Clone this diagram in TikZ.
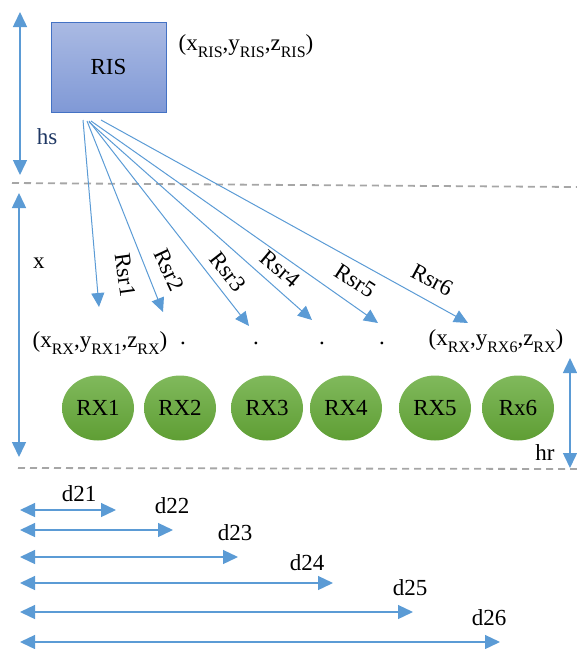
\documentclass[tikz,border=0pt]{standalone}
\usepackage{fontspec}
\setmainfont{Liberation Serif}
\newfontfamily\tnr{Liberation Serif}
\usetikzlibrary{arrows.meta,shapes.geometric}
\definecolor{lblue}{HTML}{5B9BD5}
\definecolor{dgray}{HTML}{A6A6A6}
\definecolor{navy}{HTML}{1F3864}
\definecolor{bTop}{HTML}{AABAE3}
\definecolor{bBot}{HTML}{8099D6}
\definecolor{bEdge}{HTML}{4472C4}
\definecolor{gTop}{HTML}{80B95C}
\definecolor{gBot}{HTML}{5F9E34}
\newcommand\sbs[1]{\raisebox{-0.3em}{\fontsize{16}{16}\selectfont #1}}
\begin{document}
\begin{tikzpicture}[x=1pt,y=-1pt,
  txt/.style={font=\tnr\fontsize{23}{27}\selectfont, inner sep=0pt},
  conn/.style={draw=lblue, line width=1pt, -{Triangle[length=14pt,width=13pt]}},
  dimv/.style={draw=lblue, line width=1.5pt, {Triangle[length=15pt,width=14pt]}-{Triangle[length=15pt,width=14pt]}},
  dimh/.style={draw=lblue, line width=1.3pt, {Triangle[length=15pt,width=14pt]}-{Triangle[length=15pt,width=14pt]}},
  dashln/.style={draw=dgray, line width=1.8pt, dash pattern=on 7pt off 5pt},
  risbox/.style={rectangle, draw=bEdge, line width=0.8pt, top color=bTop, bottom color=bBot, minimum width=115pt, minimum height=90pt, txt},
  rxnode/.style={ellipse, draw=none, top color=gTop, bottom color=gBot, minimum width=72pt, minimum height=65pt, txt}
]
\useasboundingbox (0,0) rectangle (577,649);

% RIS
\node[risbox] (ris) at (108.5,67) {RIS};
\node[txt] (riscoord) at (246,46) {(x\sbs{RIS},y\sbs{RIS},z\sbs{RIS})};

% dashed lines
\coordinate (da1) at (12,183);
\coordinate (da2) at (577,187);
\coordinate (db1) at (18,468);
\coordinate (db2) at (577,469);
\draw[dashln] (da1) -- (da2);
\draw[dashln] (db1) -- (db2);

% vertical dimensions
\coordinate (hsA) at (20,12);
\coordinate (hsB) at (20,175);
\draw[dimv] (hsA) -- (hsB);
\node[txt, text=navy] (hs) at (47,137) {hs};

\coordinate (xA) at (19,193);
\coordinate (xB) at (19,457);
\draw[dimv] (xA) -- (xB);
\node[txt] (xl) at (39,263) {x};

\coordinate (hrA) at (570,358);
\coordinate (hrB) at (570,468);
\draw[dimv] (hrA) -- (hrB);
\node[txt] (hr) at (545,453) {hr};

% rays
\coordinate (s1) at (83,120);
\coordinate (s2) at (87,121);
\coordinate (s3) at (89,121);
\coordinate (s4) at (89,122);
\coordinate (s5) at (91,121);
\coordinate (s6) at (101,120);
\coordinate (e1) at (99,307);
\coordinate (e2) at (163,312);
\coordinate (e3) at (249,326);
\coordinate (e4) at (312,320);
\coordinate (e5) at (378,323);
\coordinate (e6) at (468,323);
\draw[conn] (s1) -- (e1);
\draw[conn] (s2) -- (e2);
\draw[conn] (s3) -- (e3);
\draw[conn] (s4) -- (e4);
\draw[conn] (s5) -- (e5);
\draw[conn] (s6) -- (e6);

\node[txt, rotate=-82] (r1) at (125,275) {Rsr1};
\node[txt, rotate=-65] (r2) at (169,270) {Rsr2};
\node[txt, rotate=-52] (r3) at (228,272) {Rsr3};
\node[txt, rotate=-40] (r4) at (280,269) {Rsr4};
\node[txt, rotate=-33] (r5) at (355,281) {Rsr5};
\node[txt, rotate=-28] (r6) at (432,280) {Rsr6};

% coordinates of receivers
\node[txt] (c1) at (100,343) {(x\sbs{RX},y\sbs{RX1},z\sbs{RX})};
\node[txt] (c6) at (496,341) {(x\sbs{RX},y\sbs{RX6},z\sbs{RX})};
\node[txt, anchor=base] (d1) at (183,344) {.};
\node[txt, anchor=base] (d2) at (256,344) {.};
\node[txt, anchor=base] (d3) at (322,344) {.};
\node[txt, anchor=base] (d4) at (382,344) {.};

% receivers
\node[rxnode] (rx1) at (98,408) {RX1};
\node[rxnode] (rx2) at (180,408) {RX2};
\node[rxnode] (rx3) at (267,408) {RX3};
\node[rxnode] (rx4) at (346,408) {RX4};
\node[rxnode] (rx5) at (435,408) {RX5};
\node[rxnode] (rx6) at (518,408) {Rx6};

% horizontal distances
\coordinate (L1) at (20,510); \coordinate (R1) at (116,510);
\coordinate (L2) at (20,530); \coordinate (R2) at (173,530);
\coordinate (L3) at (20,557); \coordinate (R3) at (238,557);
\coordinate (L4) at (20,583); \coordinate (R4) at (333,583);
\coordinate (L5) at (20,612); \coordinate (R5) at (413,612);
\coordinate (L6) at (20,642); \coordinate (R6) at (500,642);
\draw[dimh] (L1) -- (R1);
\draw[dimh] (L2) -- (R2);
\draw[dimh] (L3) -- (R3);
\draw[dimh] (L4) -- (R4);
\draw[dimh] (L5) -- (R5);
\draw[dimh] (L6) -- (R6);
\node[txt] (t1) at (79,494) {d21};
\node[txt] (t2) at (172,506) {d22};
\node[txt] (t3) at (235,533) {d23};
\node[txt] (t4) at (307,563) {d24};
\node[txt] (t5) at (410,588) {d25};
\node[txt] (t6) at (489,618) {d26};
\end{tikzpicture}
\end{document}
